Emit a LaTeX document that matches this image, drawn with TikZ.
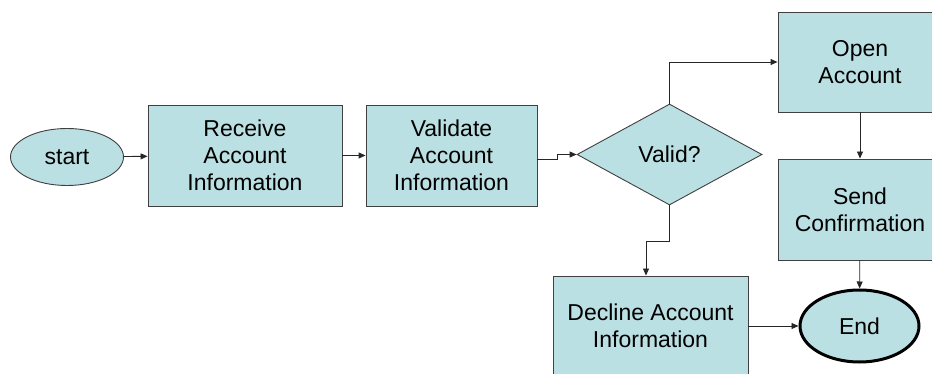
\documentclass[tikz,border=0pt]{standalone}
\usepackage{fontspec}
\setmainfont{Liberation Sans}
\usetikzlibrary{shapes.geometric,arrows.meta}
\definecolor{boxfill}{RGB}{187,224,227}
\definecolor{boxline}{RGB}{64,64,64}
\tikzset{
  every node/.style={font=\fontsize{23}{27}\selectfont, align=center, inner sep=0pt},
  procbox/.style={rectangle, draw=boxline, fill=boxfill, line width=0.9pt},
  terminal/.style={ellipse, draw=boxline, fill=boxfill, line width=0.9pt},
  decision/.style={diamond, draw=boxline, fill=boxfill, line width=0.9pt},
  flow/.style={draw=black!85, line width=0.9pt, -{Triangle[length=7pt,width=6pt]}}
}
\begin{document}
\begin{tikzpicture}[x=1pt,y=-1pt]
  \useasboundingbox (0,0) rectangle (932,374);
  \clip (0,0) rectangle (932,374);

  % process steps
  \node[terminal, minimum width=113pt, minimum height=57pt] (start) at (67,157) {start};
  \node[procbox, minimum width=194pt, minimum height=101pt] (receive) at (245,155.5) {Receive\\Account\\Information};
  \node[procbox, minimum width=171pt, minimum height=101pt] (validate) at (451.5,155.5) {Validate\\Account\\Information};
  \node[decision, minimum width=185pt, minimum height=101pt, aspect=1.83] (valid) at (669.5,154.5) {Valid?};
  \node[procbox, minimum width=164pt, minimum height=100pt] (open) at (860,62) {Open\\Account};
  \node[procbox, minimum width=164pt, minimum height=101pt] (send) at (860,209.5) {Send\\Confirmation};
  \node[procbox, minimum width=195pt, minimum height=100pt] (decline) at (650.5,326) {Decline Account\\Information};
  \node[ellipse, draw=black, fill=boxfill, line width=3pt, minimum width=119pt, minimum height=72pt] (end) at (859.5,326) {End};

  % helper points for the routed connectors
  \coordinate (jog) at (557,159);
  \coordinate (down) at (669.5,241);
  \coordinate (left) at (646,241);

  % connectors
  \draw[flow] (start) -- (receive);
  \draw[flow] (receive) -- (validate);
  \draw[flow] (validate.east |- jog) -- (jog) |- (valid.west);
  \draw[flow] (valid.north) |- (open.west);
  \draw[flow] (open) -- (send);
  \draw[flow] (valid.south) -- (down) -- (left) -- (left |- decline.north);
  \draw[flow] (decline.east |- end.west) -- (end.west);
  \draw[flow] (send) -- (end);
\end{tikzpicture}
\end{document}
